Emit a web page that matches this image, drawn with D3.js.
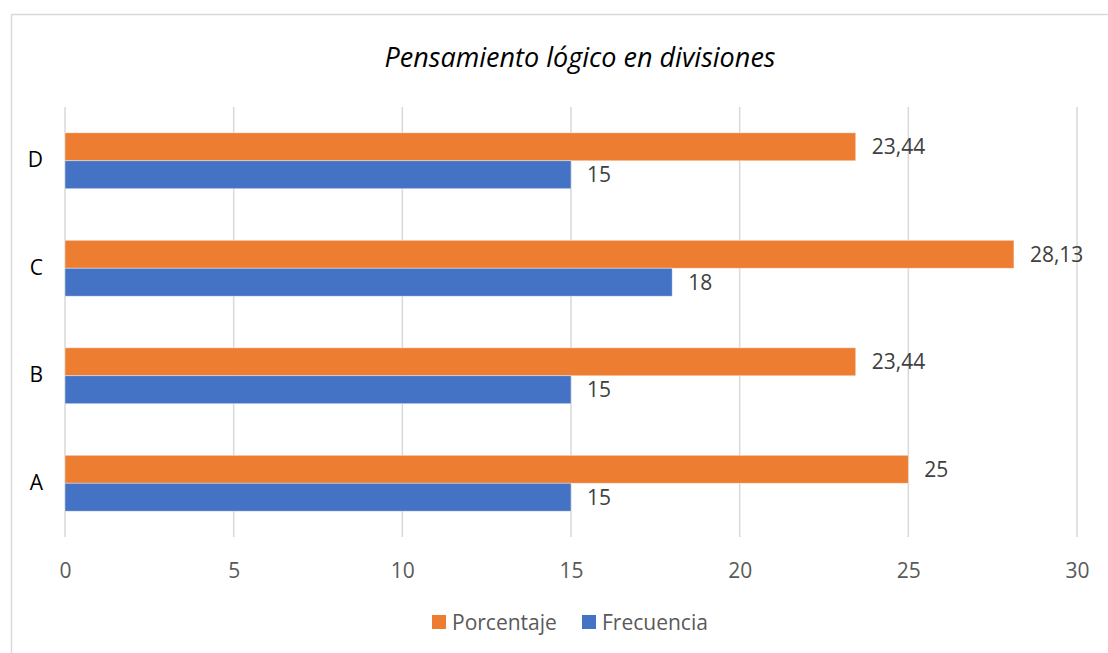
<!DOCTYPE html>
<html>
<head>
<meta charset="utf-8">
<script src="https://cdn.jsdelivr.net/npm/d3@7"></script>
<style>
  body { margin: 0; background: #fff; }
  text { font-family: "Open Sans", sans-serif; }
</style>
</head>
<body>
<script>
var width = 1108;
var height = 653;

// data
var categories = ['A', 'B', 'C', 'D'];
var porcentaje = [25, 23.44, 28.13, 23.44];
var frecuencia = [15, 15, 18, 15];
var seriesNames = ['Porcentaje', 'Frecuencia'];
var seriesColors = ['#ED7D31', '#4472C4'];
var xTicks = [0, 5, 10, 15, 20, 25, 30];

var svg = d3.select('body').append('svg')
  .attr('width', width)
  .attr('height', height);

// chart border (runs off the right and bottom edge)
svg.append('rect')
  .attr('x', 11.5).attr('y', 14.5)
  .attr('width', 1120).attr('height', 660)
  .attr('fill', 'none')
  .attr('stroke', '#d9d9d9')
  .attr('stroke-width', 1.5);

var plot = { left: 65, right: 1077, top: 107, bottom: 537 };

var x = d3.scaleLinear().domain([0, 30]).range([plot.left, plot.right]);

// D at top, A at bottom
var y = d3.scaleBand()
  .domain(categories.slice().reverse())
  .range([plot.top, plot.bottom])
  .paddingInner(0.48)
  .paddingOuter(0.24);

var inner = d3.scaleBand().domain(seriesNames).range([0, y.bandwidth()]);

// title
svg.append('text')
  .attr('x', 580).attr('y', 67)
  .attr('text-anchor', 'middle')
  .attr('font-size', 27)
  .attr('font-style', 'italic')
  .attr('fill', '#000')
  .text('Pensamiento lógico en divisiones');

// gridlines
svg.append('g').selectAll('line')
  .data(xTicks)
  .enter().append('line')
  .attr('x1', function(d){ return x(d); })
  .attr('x2', function(d){ return x(d); })
  .attr('y1', plot.top)
  .attr('y2', plot.bottom)
  .attr('stroke', '#d9d9d9')
  .attr('stroke-width', 1.5);

// x axis labels
var xAxis = d3.axisBottom(x).tickValues(xTicks).tickSize(0).tickPadding(0);
var gx = svg.append('g')
  .attr('transform', 'translate(0,' + (plot.bottom + 41) + ')')
  .call(xAxis);
gx.select('.domain').remove();
gx.selectAll('text')
  .attr('font-size', 21)
  .attr('font-family', '"Open Sans", sans-serif')
  .attr('fill', '#595959')
  .attr('dy', 0);

// category labels
var yAxis = d3.axisLeft(y).tickSize(0).tickPadding(22);
var gy = svg.append('g')
  .attr('transform', 'translate(' + plot.left + ',0)')
  .call(yAxis);
gy.select('.domain').remove();
gy.selectAll('text')
  .attr('font-size', 21)
  .attr('font-family', '"Open Sans", sans-serif')
  .attr('fill', '#000');

// bars
var rows = categories.map(function(c, i) {
  return { cat: c, values: [porcentaje[i], frecuencia[i]] };
});

var groups = svg.selectAll('.cat')
  .data(rows)
  .enter().append('g')
  .attr('class', 'cat')
  .attr('transform', function(d){ return 'translate(0,' + y(d.cat) + ')'; });

var bars = groups.selectAll('.bar')
  .data(function(d){ return d.values.map(function(v, j){ return { name: seriesNames[j], value: v, color: seriesColors[j] }; }); })
  .enter();

bars.append('rect')
  .attr('x', x(0))
  .attr('y', function(d){ return inner(d.name); })
  .attr('width', function(d){ return x(d.value) - x(0); })
  .attr('height', inner.bandwidth())
  .attr('fill', function(d){ return d.color; })
  .attr('stroke', '#fff')
  .attr('stroke-opacity', 0.5)
  .attr('stroke-width', 0.8);

bars.append('text')
  .attr('x', function(d){ return x(d.value) + 16; })
  .attr('y', function(d){ return inner(d.name) + inner.bandwidth() / 2; })
  .attr('dy', '0.36em')
  .attr('font-size', 21)
  .attr('fill', '#404040')
  .text(function(d){ return String(d.value).replace('.', ','); });

// legend
var legend = svg.append('g');
var legendX = [432, 582];
seriesNames.forEach(function(name, j) {
  legend.append('rect')
    .attr('x', legendX[j]).attr('y', 615)
    .attr('width', 14).attr('height', 14)
    .attr('fill', seriesColors[j]);
  legend.append('text')
    .attr('x', legendX[j] + 20).attr('y', 622)
    .attr('dy', '0.36em')
    .attr('font-size', 21)
    .attr('fill', '#595959')
    .text(name);
});
</script>
</body>
</html>
